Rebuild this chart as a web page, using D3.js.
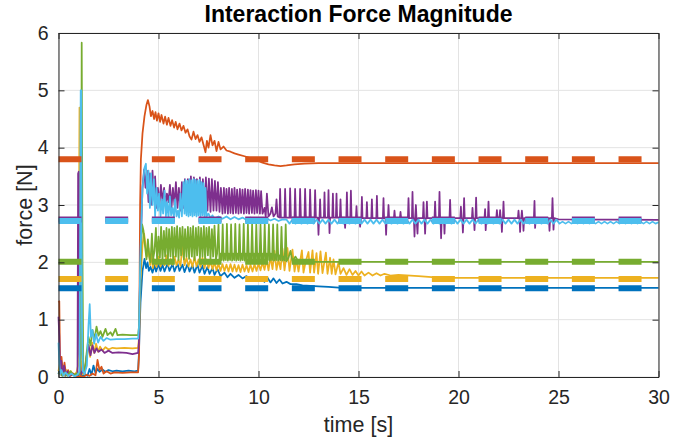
<!DOCTYPE html>
<html><head><meta charset="utf-8">
<script src="https://cdn.jsdelivr.net/npm/d3@7"></script>
<style>body{margin:0;background:#fff;} svg{display:block;font-family:"Liberation Sans",Arial,Helvetica,sans-serif;}</style>
</head><body><svg id="c" width="694" height="445"></svg>
<script>
const titleText = "Interaction Force Magnitude";
const xLabel = "time [s]";
const yLabel = "force [N]";
const xTicks = [0,5,10,15,20,25,30];
const yTicks = [0,1,2,3,4,5,6];
const seriesColors = ["#0072BD","#D95319","#EDB120","#7E2F8E","#77AC30","#4DBEEE"];
const refValues = [1.55,3.80,1.71,2.745,2.01,2.72];

const blue = [[0,0.05],[0.08,0.18],[0.15,0.03],[0.25,0.12],[0.35,0.02],[0.45,0.08],[0.55,0.02],[0.7,0.06],[0.85,0.01],[1.0,0.03],[1.1,0.08],[1.2,0.01],[1.35,0.04],[1.45,0.02],[1.55,0.14],[1.65,0.04],[1.75,0.2],[1.85,0.07],[1.95,0.14],[2.05,0.09],[2.2,0.13],[2.35,0.09],[2.5,0.12],[2.7,0.1],[2.9,0.11],[3.2,0.1],[3.5,0.11],[3.8,0.1],[3.98,0.11],[4.02,0.4],[4.1,1.3],[4.2,1.85],[4.3,2.06],[4.38,1.9],[4.45,2.0],[4.52,1.85],[4.6,1.92],[4.7,1.82],[4.8,1.95],[4.88,1.84],[5.0,1.97],[5.1,1.85],[5.2,1.96],[5.3,1.84],[5.45,1.98],[5.55,1.85],[5.7,1.97],[5.8,1.84],[5.95,1.98],[6.05,1.85],[6.2,1.96],[6.3,1.83],[6.45,1.97],[6.55,1.84],[6.7,1.95],[6.8,1.82],[6.95,1.96],[7.05,1.82],[7.2,1.94],[7.3,1.8],[7.45,1.92],[7.55,1.8],[7.7,1.9],[7.8,1.78],[7.95,1.88],[8.1,1.76],[8.3,1.82],[8.45,1.74],[8.6,1.8],[8.8,1.73],[9.0,1.78],[9.2,1.72],[9.4,1.76],[9.6,1.71],[9.8,1.74],[10.0,1.69],[10.2,1.74],[10.3,1.66],[10.45,1.73],[10.6,1.65],[10.75,1.72],[10.9,1.64],[11.05,1.7],[11.2,1.63],[11.4,1.66],[11.6,1.62],[11.9,1.62],[12.2,1.6],[12.6,1.59],[13.0,1.58],[13.5,1.57],[14.0,1.56],[15.0,1.555],[30,1.555]];

const orange = [[0,1.3],[0.04,1.32],[0.08,0.15],[0.15,0.35],[0.22,0.05],[0.3,0.25],[0.38,0.03],[0.48,0.12],[0.6,0.02],[0.75,0.06],[0.9,0.0],[1.1,0.02],[1.25,0.0],[1.4,0.04],[1.55,0.02],[1.7,0.06],[1.85,0.03],[1.95,0.3],[2.05,0.12],[2.15,0.18],[2.25,0.06],[2.4,0.1],[2.6,0.06],[2.8,0.08],[3.2,0.07],[3.6,0.08],[3.98,0.08],[4.03,0.4],[4.08,3.0],[4.12,3.8],[4.2,4.25],[4.3,4.55],[4.4,4.75],[4.47,4.83],[4.55,4.72],[4.62,4.55],[4.7,4.64],[4.78,4.5],[4.85,4.62],[4.92,4.47],[5.0,4.6],[5.08,4.45],[5.15,4.57],[5.25,4.42],[5.33,4.54],[5.42,4.4],[5.5,4.52],[5.6,4.38],[5.68,4.48],[5.78,4.35],[5.86,4.45],[5.95,4.32],[6.05,4.42],[6.15,4.3],[6.25,4.38],[6.35,4.26],[6.45,4.32],[6.55,4.2],[6.65,4.14],[6.75,4.28],[6.85,4.15],[6.95,4.22],[7.05,4.1],[7.15,4.18],[7.25,4.05],[7.35,3.92],[7.42,4.12],[7.5,4.0],[7.6,4.22],[7.7,4.04],[7.8,4.12],[7.9,3.94],[8.0,4.1],[8.1,3.97],[8.25,4.02],[8.4,3.95],[8.6,3.93],[8.8,3.9],[9.0,3.88],[9.3,3.85],[9.6,3.82],[9.9,3.78],[10.2,3.74],[10.5,3.71],[10.8,3.69],[11.1,3.68],[11.4,3.69],[11.8,3.71],[12.3,3.72],[13,3.73],[30,3.73]];

const yellow = [[0,0.1],[0.06,0.22],[0.12,0.04],[0.2,0.15],[0.3,0.02],[0.4,0.12],[0.5,0.04],[0.62,0.1],[0.75,0.03],[0.9,0.08],[0.98,0.2],[1.02,2.5],[1.05,4.7],[1.08,2.0],[1.12,0.3],[1.2,0.05],[1.3,0.1],[1.4,0.3],[1.5,0.55],[1.58,0.35],[1.68,0.6],[1.78,0.42],[1.88,0.58],[1.98,0.44],[2.08,0.53],[2.2,0.46],[2.35,0.52],[2.5,0.48],[2.7,0.51],[2.9,0.5],[3.3,0.51],[3.7,0.5],[3.98,0.51],[4.03,0.7],[4.1,1.7],[4.2,2.3],[4.28,2.5],[4.35,2.3],[4.42,2.1],[4.5,2.25],[4.58,1.95],[4.65,2.15],[4.72,1.9],[4.8,2.05],[4.9,1.92],[5.0,2.1],[5.1,1.93],[5.2,2.05],[5.3,1.95],[5.4,2.12],[5.5,1.94],[5.6,2.06],[5.7,1.96],[5.8,2.1],[5.9,1.95],[6.0,2.05],[6.1,1.94],[6.2,2.3],[6.3,1.95],[6.4,2.08],[6.5,1.93],[6.6,2.05],[6.7,1.92],[6.8,2.1],[6.9,1.93],[7.0,2.05],[7.1,1.92],[7.2,2.08],[7.3,1.9],[7.4,2.05],[7.5,1.9],[7.6,2.02],[7.7,1.88],[7.8,2.0],[7.9,1.86],[8.0,1.98],[8.1,1.85],[8.2,1.97],[8.3,1.85],[8.4,1.96],[8.5,1.84],[8.6,1.97],[8.7,1.84],[8.8,1.96],[8.9,1.84],[9.0,1.95],[9.1,1.83],[9.2,1.96],[9.3,1.84],[9.4,1.95],[9.5,1.83],[9.6,1.96],[9.7,1.84],[9.8,1.97],[9.9,1.85],[10.0,1.98],[10.1,1.86],[10.2,2.0],[10.3,1.87],[10.4,2.05],[10.5,1.86],[10.6,2.1],[10.7,1.88],[10.8,2.2],[10.9,1.87],[11.0,2.05],[11.1,1.88],[11.2,2.24],[11.3,1.86],[11.45,2.25],[11.55,1.85],[11.7,2.22],[11.8,1.84],[11.9,2.05],[12.0,1.84],[12.17,2.21],[12.25,1.82],[12.35,2.0],[12.5,2.18],[12.58,1.82],[12.7,2.21],[12.78,1.82],[12.9,2.16],[12.98,1.8],[13.1,2.19],[13.2,1.81],[13.37,2.17],[13.45,1.8],[13.58,2.08],[13.66,1.8],[13.75,2.05],[13.85,1.79],[14.0,2.0],[14.1,1.8],[14.25,1.9],[14.4,1.78],[14.55,1.88],[14.7,1.78],[14.85,1.85],[15.0,1.77],[15.15,1.84],[15.3,1.77],[15.5,1.82],[15.7,1.77],[15.9,1.81],[16.1,1.77],[16.3,1.8],[16.6,1.77],[17.0,1.78],[18.0,1.76],[19.0,1.735],[20,1.73],[30,1.73]];

const purple = [[0,1.05],[0.04,0.7],[0.08,0.1],[0.14,0.28],[0.2,0.03],[0.28,0.2],[0.36,0.04],[0.45,0.1],[0.55,0.02],[0.7,0.06],[0.85,0.02],[0.95,0.05],[0.98,3.55],[1.01,3.58],[1.05,0.4],[1.12,0.05],[1.2,0.1],[1.3,0.05],[1.4,0.35],[1.5,0.56],[1.6,0.38],[1.7,0.55],[1.8,0.42],[1.9,0.5],[2.0,0.44],[2.15,0.48],[2.3,0.42],[2.5,0.46],[2.7,0.42],[3.0,0.43],[3.4,0.42],[3.7,0.4],[3.98,0.42],[4.02,0.6],[4.1,2.2],[4.2,3.3],[4.28,3.62],[4.35,3.3],[4.42,3.6],[4.5,3.05],[4.57,3.55],[4.63,3.0],[4.7,3.6],[4.77,3.1],[4.83,3.5],[4.9,2.95],[4.97,3.3],[5.05,3.0],[5.12,3.35],[5.2,3.05],[5.28,3.3],[5.35,3.0],[5.42,3.2],[5.5,3.05],[5.57,3.35],[5.65,2.95],[5.72,3.3],[5.8,3.0],[5.87,3.4],[5.95,2.95],[6.02,3.3],[6.1,2.9],[6.17,3.4],[6.25,2.95],[6.32,3.45],[6.4,2.9],[6.47,3.45],[6.55,2.88],[6.62,3.5],[6.7,2.9],[6.77,3.48],[6.85,2.88],[6.92,3.45],[7.0,2.9],[7.07,3.48],[7.15,2.88],[7.22,3.45],[7.3,2.88],[7.37,3.48],[7.45,2.9],[7.52,3.46],[7.6,2.88],[7.67,3.45],[7.75,2.9],[7.82,3.42],[7.9,2.9],[7.97,3.4],[8.05,2.88],[8.12,3.3],[8.2,2.85],[8.27,3.3],[8.33,2.86],[8.4,3.28],[8.47,2.85],[8.53,3.3],[8.6,2.86],[8.67,3.28],[8.73,2.85],[8.8,3.3],[8.87,2.86],[8.93,3.27],[9.0,2.85],[9.07,3.28],[9.13,2.86],[9.2,3.27],[9.27,2.85],[9.33,3.28],[9.4,2.86],[9.47,3.27],[9.53,2.85],[9.6,3.26],[9.67,2.86],[9.73,3.25],[9.8,2.85],[9.87,3.26],[9.93,2.86],[10.0,3.25],[10.07,2.85],[10.13,3.24],[10.2,2.85],[10.3,2.95],[10.36,2.8],[10.42,3.2],[10.5,2.8],[10.6,2.85],[10.67,2.96],[10.75,2.8],[10.85,2.85],[10.9,3.1],[10.96,2.8],[11.05,2.78],[11.08,3.28],[11.12,2.78],[11.3,2.78],[11.33,3.28],[11.37,2.78],[11.55,2.78],[11.58,3.29],[11.62,2.78],[11.8,2.78],[11.83,3.28],[11.87,2.78],[12.05,2.78],[12.08,3.28],[12.12,2.78],[12.3,2.78],[12.33,3.28],[12.37,2.78],[12.55,2.78],[12.58,3.27],[12.62,2.78],[12.8,2.78],[12.83,3.26],[12.87,2.78],[12.97,2.78],[13.0,2.48],[13.03,2.78],[13.05,2.78],[13.08,3.1],[13.11,2.78],[13.27,2.78],[13.3,3.22],[13.33,2.78],[13.47,2.78],[13.5,3.26],[13.53,2.78],[13.55,2.51],[13.58,2.78],[13.69,2.78],[13.72,3.2],[13.75,2.78],[13.87,2.78],[13.9,3.2],[13.93,2.78],[14.07,2.78],[14.1,3.1],[14.13,2.78],[14.3,2.78],[14.33,2.6],[14.36,2.78],[14.39,2.78],[14.42,3.22],[14.45,2.78],[14.59,2.78],[14.62,3.25],[14.65,2.78],[14.87,2.77],[14.9,2.98],[14.93,2.77],[15.05,2.77],[15.08,2.62],[15.11,2.77],[15.14,2.77],[15.17,3.14],[15.2,2.77],[15.39,2.77],[15.42,3.05],[15.45,2.77],[15.64,2.77],[15.67,3.1],[15.7,2.77],[15.89,2.77],[15.92,3.16],[15.95,2.77],[16.22,2.77],[16.25,3.12],[16.28,2.77],[16.35,2.77],[16.38,2.48],[16.41,2.77],[16.47,2.77],[16.5,3.0],[16.53,2.77],[16.77,2.77],[16.8,2.9],[16.83,2.77],[17.07,2.77],[17.1,2.88],[17.13,2.77],[17.47,2.77],[17.5,3.12],[17.53,2.77],[17.67,2.77],[17.7,3.23],[17.73,2.77],[17.77,2.77],[17.8,2.45],[17.83,2.77],[17.87,3.0],[17.9,2.77],[17.95,2.5],[17.98,2.77],[18.22,2.77],[18.25,3.05],[18.28,2.77],[18.3,2.77],[18.33,2.5],[18.36,2.77],[18.39,2.77],[18.42,3.06],[18.45,2.77],[18.8,2.77],[18.83,3.06],[18.86,2.77],[19.02,2.77],[19.05,3.23],[19.08,2.77],[19.1,2.77],[19.13,2.42],[19.16,2.77],[19.27,2.77],[19.3,2.5],[19.33,2.77],[19.55,2.77],[19.58,3.09],[19.61,2.77],[20.09,2.77],[20.12,2.97],[20.15,2.77],[20.19,2.77],[20.22,2.52],[20.25,2.77],[20.28,3.12],[20.31,2.77],[20.67,2.77],[20.7,2.95],[20.73,2.77],[20.77,2.77],[20.8,2.56],[20.83,2.77],[20.85,2.77],[20.88,3.13],[20.91,2.77],[21.3,2.77],[21.33,2.93],[21.36,2.56],[21.39,2.77],[21.47,2.77],[21.5,3.06],[21.53,2.77],[21.89,2.77],[21.92,2.91],[21.95,2.77],[22.05,2.77],[22.08,2.91],[22.11,2.77],[22.14,2.77],[22.17,2.53],[22.2,2.77],[22.22,2.77],[22.25,3.06],[22.28,2.77],[22.97,2.77],[23.0,2.9],[23.03,2.77],[23.05,2.77],[23.08,2.53],[23.11,2.77],[23.14,2.77],[23.17,2.9],[23.2,2.77],[23.22,2.77],[23.25,2.55],[23.28,2.77],[23.77,2.77],[23.8,3.07],[23.83,2.6],[23.86,2.77],[24.52,2.77],[24.55,2.55],[24.58,2.77],[24.67,2.77],[24.7,3.12],[24.73,2.77],[24.75,2.57],[24.78,2.77],[25.0,2.75],[30,2.74]];

const green = [[0,0.05],[0.1,0.12],[0.2,0.02],[0.3,0.08],[0.45,0.02],[0.6,0.1],[0.75,0.03],[0.9,0.06],[1.05,0.05],[1.12,0.4],[1.16,5.83],[1.2,2.0],[1.24,0.1],[1.3,0.05],[1.4,0.4],[1.5,0.7],[1.6,0.55],[1.7,0.82],[1.8,0.66],[1.9,0.88],[2.0,0.72],[2.1,0.8],[2.2,0.7],[2.35,0.84],[2.45,0.73],[2.6,0.78],[2.7,0.72],[2.85,0.84],[2.95,0.73],[3.2,0.74],[3.6,0.73],[3.98,0.73],[4.03,0.9],[4.1,2.0],[4.18,2.66],[4.25,2.55],[4.32,2.3],[4.4,2.05],[4.47,2.4],[4.54,2.1],[4.6,2.0],[4.67,2.5],[4.73,2.05],[4.8,2.2],[4.87,2.6],[4.93,2.02],[5.0,2.45],[5.07,2.08],[5.13,2.62],[5.2,2.04],[5.27,2.55],[5.33,2.1],[5.4,2.6],[5.47,2.03],[5.53,2.58],[5.6,2.1],[5.67,2.62],[5.73,2.05],[5.8,2.6],[5.87,2.1],[5.93,2.63],[6.0,2.04],[6.07,2.6],[6.13,2.12],[6.2,2.62],[6.27,2.05],[6.33,2.58],[6.4,2.1],[6.47,2.62],[6.53,2.06],[6.6,2.6],[6.67,2.1],[6.73,2.63],[6.8,2.04],[6.87,2.6],[6.93,2.12],[7.0,2.62],[7.07,2.05],[7.13,2.6],[7.2,2.1],[7.27,2.63],[7.33,2.04],[7.4,2.6],[7.47,2.12],[7.53,2.62],[7.6,2.05],[7.67,2.58],[7.73,2.1],[7.8,2.64],[7.87,2.05],[7.93,2.15],[8.0,2.66],[8.05,2.03],[8.1,2.15],[8.16,2.04],[8.21,2.66],[8.26,2.03],[8.31,2.15],[8.37,2.04],[8.42,2.67],[8.47,2.03],[8.52,2.15],[8.58,2.04],[8.63,2.66],[8.68,2.03],[8.73,2.15],[8.79,2.04],[8.84,2.67],[8.89,2.03],[8.94,2.15],[9.0,2.04],[9.05,2.66],[9.1,2.03],[9.15,2.15],[9.21,2.04],[9.26,2.67],[9.31,2.03],[9.36,2.15],[9.42,2.04],[9.47,2.66],[9.52,2.03],[9.57,2.15],[9.63,2.04],[9.68,2.67],[9.73,2.03],[9.78,2.15],[9.84,2.04],[9.89,2.66],[9.94,2.03],[9.99,2.15],[10.05,2.04],[10.1,2.66],[10.15,2.03],[10.2,2.15],[10.26,2.04],[10.31,2.67],[10.36,2.03],[10.41,2.15],[10.47,2.04],[10.52,2.66],[10.57,2.03],[10.62,2.15],[10.68,2.04],[10.73,2.66],[10.78,2.03],[10.83,2.14],[10.89,2.04],[10.94,2.66],[10.99,2.03],[11.04,2.12],[11.1,2.04],[11.15,2.62],[11.2,2.03],[11.25,2.1],[11.31,2.03],[11.36,2.66],[11.41,2.02],[11.5,2.08],[11.6,2.2],[11.7,2.02],[11.85,2.1],[12.0,2.01],[12.3,2.03],[12.6,2.01],[30,2.01]];

const cyan = [[0,0.6],[0.04,0.25],[0.08,0.05],[0.15,0.12],[0.25,0.02],[0.35,0.08],[0.5,0.02],[0.65,0.06],[0.8,0.01],[0.95,0.04],[1.05,0.1],[1.08,2.5],[1.11,5.0],[1.14,5.0],[1.17,1.0],[1.22,0.1],[1.3,0.05],[1.42,0.2],[1.5,0.9],[1.56,1.27],[1.62,0.7],[1.7,0.82],[1.78,0.58],[1.88,0.75],[1.98,0.6],[2.1,0.7],[2.25,0.63],[2.4,0.68],[2.6,0.65],[2.9,0.66],[3.3,0.66],[3.7,0.67],[3.98,0.67],[4.03,0.9],[4.1,2.2],[4.2,3.3],[4.3,3.65],[4.37,3.72],[4.43,3.2],[4.5,3.6],[4.57,2.95],[4.63,3.55],[4.7,3.0],[4.77,3.45],[4.83,2.8],[4.9,3.3],[4.97,2.9],[5.03,3.2],[5.1,2.8],[5.17,3.1],[5.23,2.85],[5.3,3.25],[5.37,2.8],[5.43,3.05],[5.5,2.78],[5.57,3.15],[5.63,2.82],[5.7,2.95],[5.77,2.78],[5.83,3.1],[5.9,2.8],[5.97,2.9],[6.03,2.78],[6.1,3.2],[6.17,2.8],[6.25,3.4],[6.3,2.85],[6.35,3.44],[6.4,2.82],[6.45,3.42],[6.5,2.8],[6.55,3.45],[6.6,2.82],[6.65,3.43],[6.7,2.8],[6.75,3.45],[6.8,2.82],[6.85,3.44],[6.9,2.8],[6.95,3.42],[7.0,2.82],[7.05,3.44],[7.1,2.8],[7.15,3.4],[7.2,2.82],[7.25,3.38],[7.3,2.8],[7.35,3.3],[7.4,2.8],[7.5,2.85],[7.6,2.77],[7.7,2.82],[7.8,2.76],[8.0,2.8],[8.2,2.76],[8.4,2.8],[8.6,2.75],[8.8,2.79],[9.0,2.75],[9.2,2.78],[9.4,2.74],[9.6,2.78],[9.8,2.74],[10.0,2.77],[10.2,2.73],[10.4,2.77],[10.6,2.73],[10.8,2.76],[11.0,2.72],[11.2,2.75],[11.4,2.745],[11.55,2.675],[11.7,2.745],[11.85,2.675],[12.0,2.745],[12.15,2.675],[12.3,2.745],[12.45,2.675],[12.6,2.745],[12.75,2.675],[12.9,2.745],[13.05,2.675],[13.2,2.745],[13.35,2.675],[13.5,2.745],[13.65,2.675],[13.8,2.745],[13.95,2.675],[14.1,2.745],[14.25,2.675],[14.4,2.745],[14.55,2.675],[14.7,2.745],[14.85,2.675],[15.0,2.745],[15.15,2.675],[15.3,2.745],[15.45,2.675],[15.6,2.745],[15.75,2.675],[15.9,2.745],[16.05,2.675],[16.2,2.745],[16.35,2.675],[16.5,2.745],[16.65,2.675],[16.8,2.745],[16.95,2.675],[17.1,2.745],[17.25,2.675],[17.4,2.745],[17.55,2.675],[17.7,2.745],[17.85,2.675],[18.0,2.745],[18.15,2.675],[18.3,2.745],[18.45,2.675],[18.6,2.745],[18.75,2.675],[18.9,2.745],[19.05,2.675],[19.2,2.745],[19.35,2.675],[19.5,2.745],[19.65,2.675],[19.8,2.745],[19.95,2.675],[20.1,2.745],[20.25,2.675],[20.4,2.745],[20.55,2.675],[20.7,2.745],[20.85,2.675],[21.0,2.745],[21.15,2.675],[21.3,2.745],[21.45,2.675],[21.6,2.745],[21.75,2.675],[21.9,2.745],[22.05,2.675],[22.2,2.745],[22.35,2.675],[22.5,2.745],[22.65,2.675],[22.8,2.745],[22.95,2.675],[23.1,2.745],[23.25,2.675],[23.4,2.745],[23.55,2.675],[23.7,2.745],[23.85,2.675],[24.0,2.745],[24.15,2.675],[24.3,2.745],[24.45,2.675],[24.6,2.745],[24.75,2.675],[24.9,2.745],[25.05,2.675],[25.2,2.71],[25.35,2.675],[25.5,2.71],[25.65,2.675],[25.8,2.71],[25.95,2.675],[26.1,2.71],[26.25,2.675],[26.4,2.71],[26.55,2.675],[26.7,2.71],[26.85,2.675],[27.0,2.71],[27.15,2.675],[27.3,2.71],[27.45,2.675],[27.6,2.71],[27.75,2.675],[27.9,2.71],[28.05,2.675],[28.2,2.71],[28.35,2.675],[28.5,2.71],[28.65,2.675],[28.8,2.71],[28.95,2.675],[29.1,2.71],[29.25,2.675],[29.4,2.71],[29.55,2.675],[29.7,2.71],[29.85,2.675],[30,2.7]];

const seriesData = [blue, orange, yellow, purple, green, cyan];

const W = 694, H = 445;
const m = {l: 58.5, r: 35.5, t: 33, b: 68};
const svg = d3.select("#c");
const x = d3.scaleLinear().domain([0, 30]).range([m.l, W - m.r]);
const y = d3.scaleLinear().domain([0, 6]).range([H - m.b, m.t]);
const axisColor = "#262626";

// grid
const grid = svg.append("g");
grid.selectAll("line.gx").data(xTicks).join("line")
  .attr("x1", d => x(d)).attr("x2", d => x(d))
  .attr("y1", m.t).attr("y2", H - m.b)
  .attr("stroke", "#e3e3e3").attr("stroke-width", 1);
grid.selectAll("line.gy").data(yTicks).join("line")
  .attr("y1", d => y(d)).attr("y2", d => y(d))
  .attr("x1", m.l).attr("x2", W - m.r)
  .attr("stroke", "#e3e3e3").attr("stroke-width", 1);

// data lines
const plot = svg.append("g");
const line = d3.line().x(d => x(d[0])).y(d => y(d[1]));
seriesData.forEach((s, i) => {
  plot.append("path").attr("d", line(s))
    .attr("fill", "none").attr("stroke", seriesColors[i])
    .attr("stroke-width", 1.75).attr("stroke-linejoin", "round");
});
// reference dashed lines
refValues.forEach((v, i) => {
  plot.append("path").attr("d", line([[0, v], [30, v]]))
    .attr("fill", "none").attr("stroke", seriesColors[i])
    .attr("stroke-width", 6).attr("stroke-dasharray", "23,23.67");
});

// axes
const fontSize = 19.5;
const fmt = d3.format("d");
const gx = svg.append("g").attr("transform", `translate(0,${H - m.b})`)
  .call(d3.axisBottom(x).tickValues(xTicks).tickFormat(fmt).tickSizeInner(-6).tickSizeOuter(0).tickPadding(13));
const gy = svg.append("g").attr("transform", `translate(${m.l},0)`)
  .call(d3.axisLeft(y).tickValues(yTicks).tickFormat(fmt).tickSizeInner(-6).tickSizeOuter(0).tickPadding(10));
const gt = svg.append("g").attr("transform", `translate(0,${m.t})`)
  .call(d3.axisTop(x).tickValues(xTicks).tickSizeInner(-6).tickSizeOuter(0).tickFormat(""));
const gr = svg.append("g").attr("transform", `translate(${W - m.r},0)`)
  .call(d3.axisRight(y).tickValues(yTicks).tickSizeInner(-6).tickSizeOuter(0).tickFormat(""));
[gx, gy, gt, gr].forEach(g => {
  g.select(".domain").attr("stroke", axisColor).attr("stroke-width", 1);
  g.selectAll(".tick line").attr("stroke", axisColor).attr("stroke-width", 1);
  g.selectAll(".tick text").attr("fill", axisColor)
    .style("font-size", fontSize + "px")
    .style("font-family", '"Liberation Sans", Arial, sans-serif');
});

// title and labels
svg.append("text").attr("x", (m.l + W - m.r) / 2).attr("y", 22)
  .attr("text-anchor", "middle").style("font-size", "23px").style("font-weight", "bold")
  .attr("fill", "#000").text(titleText);
svg.append("text").attr("x", (m.l + W - m.r) / 2).attr("y", 432)
  .attr("text-anchor", "middle").style("font-size", "21.5px")
  .attr("fill", axisColor).text(xLabel);
svg.append("text").attr("transform", `translate(32,${(m.t + H - m.b) / 2}) rotate(-90)`)
  .attr("text-anchor", "middle").style("font-size", "21.5px")
  .attr("fill", axisColor).text(yLabel);
</script></body></html>
